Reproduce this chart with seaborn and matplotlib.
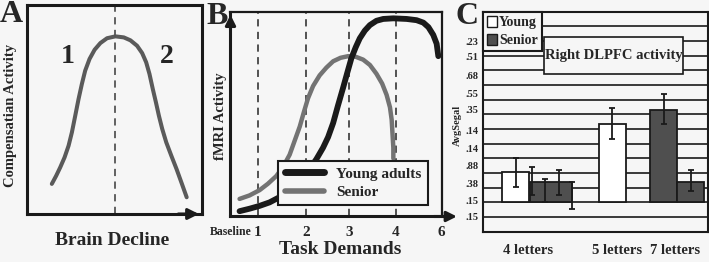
import numpy as np
import pandas as pd
import seaborn as sns
import matplotlib.pyplot as plt
from matplotlib.lines import Line2D
from matplotlib.patches import Patch, Rectangle
from matplotlib.ticker import MultipleLocator

# panel A - compensation curve
a_decline = [1.42, 1.67, 1.90, 2.15, 2.38, 2.57, 2.76, 2.95, 3.14, 3.33, 3.58, 3.87, 4.20, 4.58, 5.06,
             5.54, 5.92, 6.30, 6.59, 6.82, 7.01, 7.20, 7.38, 7.55, 7.74, 7.97, 8.26, 8.56, 8.85, 9.14]
a_activity = [1.44, 1.83, 2.23, 2.71, 3.27, 3.91, 4.70, 5.50, 6.22, 6.86, 7.42, 7.86, 8.18, 8.41, 8.50,
              8.45, 8.31, 8.05, 7.70, 7.26, 6.70, 5.98, 5.34, 4.70, 4.07, 3.43, 2.79, 2.15, 1.48, 0.80]
a_peak = 5.06

# panel B - fMRI activity vs task demands
young_x = [0.43, 0.90, 1.38, 1.85, 2.33, 2.72, 3.12, 3.43, 3.75, 4.07, 4.38, 4.62, 4.86, 5.09, 5.33, 5.54,
           5.73, 5.93, 6.12, 6.36, 6.60, 6.91, 7.23, 7.71, 8.34, 8.81, 9.13, 9.37, 9.60, 9.76, 9.84]
young_y = [0.26, 0.38, 0.52, 0.69, 0.95, 1.21, 1.55, 1.90, 2.33, 2.81, 3.36, 3.88, 4.57, 5.43, 6.29, 7.07,
           7.76, 8.28, 8.71, 9.09, 9.36, 9.57, 9.66, 9.69, 9.66, 9.60, 9.48, 9.26, 8.88, 8.45, 7.84]
senior_x = [0.43, 0.90, 1.38, 1.77, 2.17, 2.48, 2.80, 3.04, 3.28, 3.47, 3.67, 3.91, 4.22, 4.54, 4.86, 5.21,
            5.57, 5.93, 6.28, 6.60, 6.91, 7.18, 7.39, 7.55, 7.63, 7.67, 7.71, 7.71]
senior_y = [0.86, 1.03, 1.29, 1.60, 1.98, 2.41, 3.02, 3.71, 4.40, 5.09, 5.78, 6.38, 6.90, 7.28, 7.59, 7.76,
            7.84, 7.81, 7.67, 7.41, 6.98, 6.50, 5.95, 5.34, 4.74, 4.05, 3.36, 2.84]
b_ticks = [0, 1.28, 3.59, 5.61, 7.82, 10]
b_labels = ['Baseline', '1', '2', '3', '4', '6']

# panel C - Right DLPFC activity
c_slot = [0.0, 1.30, 3.57, 5.49, 6.47]
c_group = ['Young', 'Senior', 'Young', 'Senior', 'Senior']
c_value = [2.04, 1.40, 5.36, 6.33, 1.40]
c_err_x = [0.0, 0.59, 1.08, 1.60, 2.07, 3.55, 5.49, 6.49]
c_err_mid = [2.04, 1.47, 0.79, 1.35, 0.48, 5.37, 6.35, 1.48]
c_err_half = [1.00, 0.97, 0.79, 0.85, 0.93, 1.07, 1.04, 0.73]
c_ticks = [0.46, 3.74, 5.90]
c_labels = ['4 letters', '5 letters', '7 letters']
c_ytick_pos = [10.95, 9.93, 8.62, 7.44, 6.30, 4.87, 3.69, 2.50, 1.30, 0.10, -0.97]
c_ytick_lab = ['.23', '.51', '.68', '.55', '.35', '.14', '.14', '.88', '.38', '.15', '.15']

bg = '#f6f6f6'
dark = '#4f4f4f'

sns.set_theme(style='white')
plt.rcParams['font.family'] = ['Liberation Serif', 'DejaVu Serif']
plt.rcParams['font.weight'] = 'bold'
plt.rcParams['axes.labelweight'] = 'bold'

fig = plt.figure(figsize=(7.09, 2.62), dpi=100, facecolor=bg)
axA = fig.add_axes([0.0381, 0.1832, 0.2464, 0.7977])
axB = fig.add_axes([0.3251, 0.1737, 0.2979, 0.7805])
axC = fig.add_axes([0.6812, 0.1156, 0.3173, 0.8397])

for ax in (axA, axB, axC):
    ax.set_facecolor(bg)
    for s in ax.spines.values():
        s.set_visible(True)
        s.set_color('k')

# ---- A
dfA = pd.DataFrame({'decline': a_decline, 'activity': a_activity})
sns.lineplot(data=dfA, x='decline', y='activity', ax=axA, color='#5a5a5a',
             lw=2.9, sort=False, estimator=None)
axA.axvline(a_peak, color='#555555', lw=1.3, ls=(0, (4, 3)))
axA.set(xlim=(0, 10), ylim=(0, 10), xticks=[], yticks=[])
for s in axA.spines.values():
    s.set_linewidth(2.2)
axA.set_xlabel('Brain Decline', fontsize=14, va='center')
axA.xaxis.set_label_coords(0.49, -0.125)
axA.set_ylabel('Compensatian Activity', fontsize=10.5, va='center')
axA.yaxis.set_label_coords(-0.092, 0.47)
axA.text(2.3, 7.55, '1', fontsize=20, ha='center', va='center')
axA.text(8.0, 7.55, '2', fontsize=20, ha='center', va='center')
axA.annotate('', xy=(1.0, 0), xytext=(0.85, 0), xycoords='axes fraction',
             arrowprops=dict(arrowstyle='-|>', color='k', lw=2.2, mutation_scale=16))

# ---- B
dfB = pd.concat([
    pd.DataFrame({'demand': young_x, 'fmri': young_y, 'group': 'Young adults'}),
    pd.DataFrame({'demand': senior_x, 'fmri': senior_y, 'group': 'Senior'}),
])
for d in b_ticks[1:-1]:
    axB.axvline(d, color='#444444', lw=1.3, ls=(0, (4, 3)), zorder=1)
sns.lineplot(data=dfB[dfB.group == 'Senior'], x='demand', y='fmri', ax=axB,
             color='#737373', lw=3.2, sort=False, estimator=None, zorder=3)
sns.lineplot(data=dfB[dfB.group == 'Young adults'], x='demand', y='fmri', ax=axB,
             color='k', lw=4.2, sort=False, estimator=None, zorder=4)
axB.set(xlim=(0, 10), ylim=(0, 10), yticks=[])
axB.set_xticks(b_ticks)
axB.set_xticklabels(b_labels, fontsize=11)
axB.get_xticklabels()[0].set_fontsize(8.5)
axB.tick_params(axis='x', length=0, pad=7)
axB.spines['left'].set_linewidth(2.2)
axB.spines['bottom'].set_linewidth(2.2)
axB.spines['top'].set_linewidth(1.6)
axB.spines['right'].set_linewidth(1.6)
axB.set_xlabel('Task Demands', fontsize=14, va='center')
axB.xaxis.set_label_coords(0.518, -0.16)
axB.set_ylabel('fMRI Activity', fontsize=10.5, va='center')
axB.yaxis.set_label_coords(-0.045, 0.49)
axB.annotate('', xy=(1.085, 0), xytext=(0.95, 0), xycoords='axes fraction',
             arrowprops=dict(arrowstyle='-|>', color='k', lw=2.2, mutation_scale=15))
axB.annotate('', xy=(0, 1.0), xytext=(0, 0.9), xycoords='axes fraction',
             arrowprops=dict(arrowstyle='-|>', color='k', lw=2.2, mutation_scale=15))
legB = axB.legend(handles=[Line2D([], [], color='k', lw=5, label='Young adults'),
                           Line2D([], [], color='#737373', lw=4, label='Senior')],
                  loc='lower right', bbox_to_anchor=(0.935, 0.056), borderaxespad=0,
                  fontsize=11, handlelength=2.6, fancybox=False, framealpha=1,
                  facecolor=bg, edgecolor='k', borderpad=0.4, labelspacing=0.3)
legB.get_frame().set_linewidth(1.5)

# ---- C
colors = {'Young': 'white', 'Senior': dark}
widths = [1, 1.55, 1, 1, 1]
axC.bar(c_slot, c_value, width=widths, color=[colors[g] for g in c_group],
        edgecolor='k', linewidth=1.3, zorder=3)
axC.errorbar(c_err_x, c_err_mid, yerr=c_err_half, fmt='none', ecolor='k',
             elinewidth=1.3, capsize=2.5, capthick=1.3, zorder=4)
axC.set_xlim(-1.21, 7.12)
axC.set_ylim(-2, 13)
axC.yaxis.set_minor_locator(MultipleLocator(1))
axC.grid(True, which='minor', axis='y', color='k', lw=1.2)
axC.set_axisbelow(True)
axC.set_yticks(c_ytick_pos)
axC.set_yticklabels(c_ytick_lab, fontsize=7.5)
axC.set_xticks(c_ticks)
axC.set_xticklabels(c_labels, fontsize=10.5)
axC.tick_params(axis='both', which='both', length=0)
axC.tick_params(axis='x', pad=9)
axC.tick_params(axis='y', pad=3)
for s in axC.spines.values():
    s.set_linewidth(1.5)
axC.set_ylabel('AvgSegal', fontsize=7.5, va='center')
axC.yaxis.set_label_coords(-0.112, 0.485)
legC = axC.legend(handles=[Patch(facecolor='white', edgecolor='k', label='Young'),
                           Patch(facecolor=dark, edgecolor='k', label='Senior')],
                  loc='upper left', borderaxespad=0, fontsize=10, handlelength=0.7,
                  handleheight=0.8, handletextpad=0.15, borderpad=0.3, labelspacing=0.35,
                  fancybox=False, framealpha=1, facecolor=bg, edgecolor='k')
legC.get_frame().set_linewidth(1.5)
axC.add_patch(Rectangle((0.271, 0.717), 0.618, 0.168, transform=axC.transAxes,
                        fc=bg, ec='k', lw=1.2, zorder=5))
axC.text(0.58, 0.80, 'Right DLPFC activity', transform=axC.transAxes, fontsize=10.5,
         ha='center', va='center', zorder=6)

# panel letters
fig.text(11 / 709, 1 - 15 / 262, 'A', fontsize=23, ha='center', va='center')
fig.text(217 / 709, 1 - 16 / 262, 'B', fontsize=23, ha='center', va='center')
fig.text(467 / 709, 1 - 16 / 262, 'C', fontsize=23, ha='center', va='center')

fig.savefig('out.png', dpi=100, facecolor=bg)
